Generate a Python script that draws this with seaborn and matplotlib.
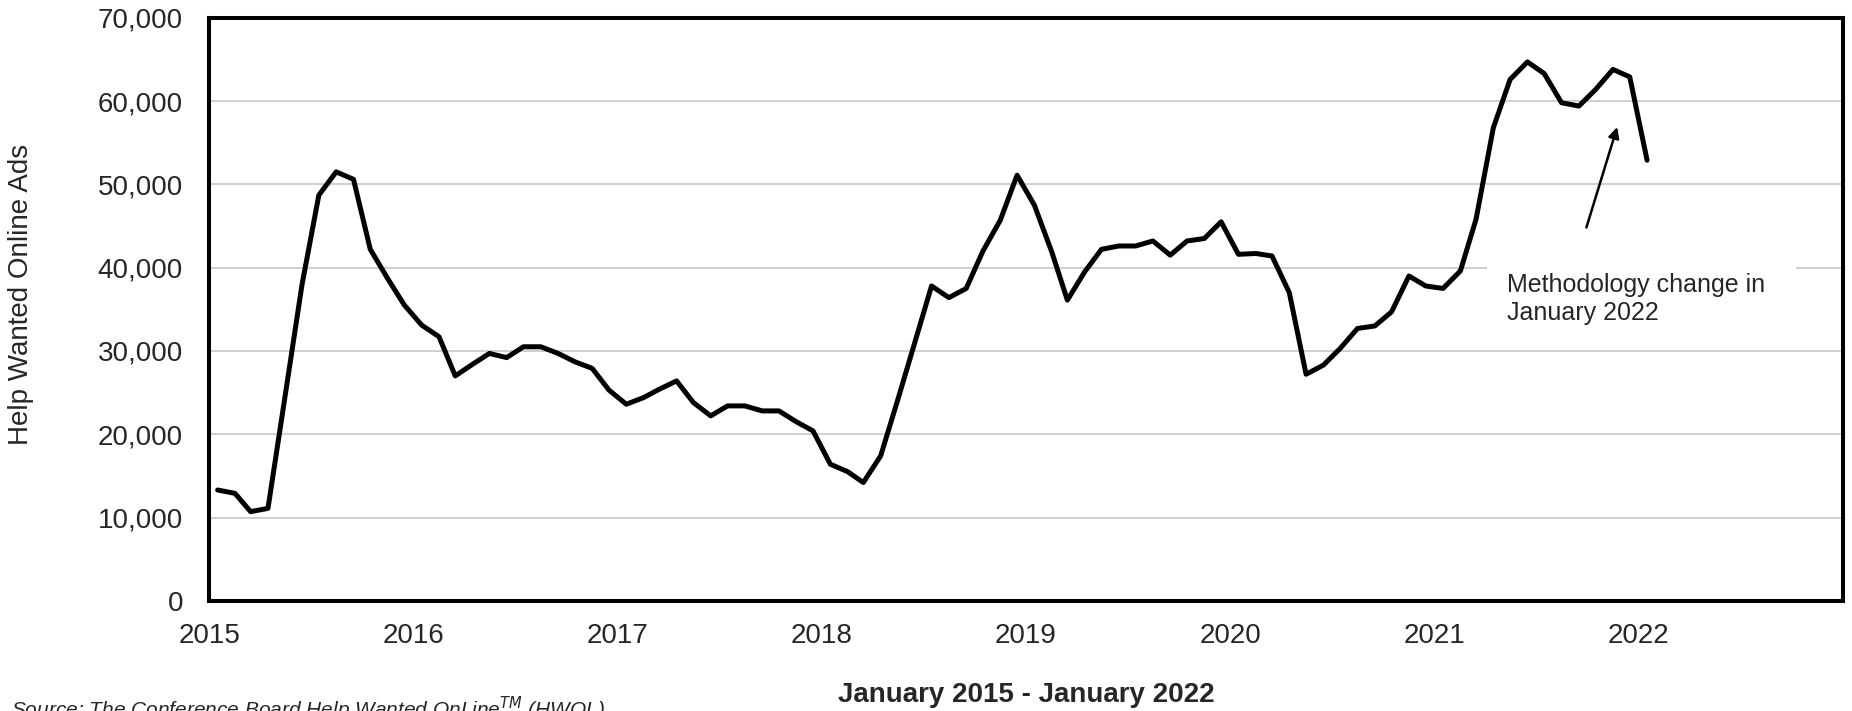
import matplotlib
matplotlib.use("Agg")
import matplotlib.pyplot as plt
import matplotlib.dates as mdates
import matplotlib.ticker as mticker
from matplotlib.patches import Rectangle
import seaborn as sns
import pandas as pd

# Monthly Help Wanted Online ads, Jan 2015 - Jan 2022
months = pd.date_range("2015-01-01", "2022-01-01", freq="MS") + pd.Timedelta(days=15)
ads = [
    13300, 12900, 10700, 11100, 24300, 38000, 48700, 51500, 50600, 42200, 38700, 35500,
    33100, 31700, 27000, 28400, 29700, 29200, 30500, 30500, 29700, 28700, 27900, 25300,
    23600, 24400, 25400, 26400, 23800, 22200, 23400, 23400, 22800, 22800, 21500, 20400,
    16400, 15500, 14200, 17400, 24000, 31000, 37800, 36400, 37500, 42000, 45700, 51100,
    47500, 41900, 36100, 39500, 42200, 42600, 42600, 43200, 41500, 43200, 43500, 45500,
    41600, 41700, 41400, 37000, 27200, 28300, 30300, 32700, 33000, 34700, 39000, 37800,
    37500, 39600, 45800, 56800, 62600, 64700, 63300, 59800, 59400, 61400, 63800, 62900,
    52900,
]
df = pd.DataFrame({"month": months, "ads": ads})

y_ticks = list(range(0, 70001, 10000))
note = "Methodology change in\nJanuary 2022"

sns.set_style("white")
plt.rcParams["font.family"] = ["Liberation Sans", "DejaVu Sans"]

fig = plt.figure(figsize=(18.52, 7.11), dpi=100)
ax = fig.add_axes([0.113, 0.155, 0.882, 0.82])

ax.yaxis.grid(True, color="#cccccc", linewidth=1.3)
ax.set_axisbelow(True)
sns.lineplot(data=df, x="month", y="ads", color="black", linewidth=3.6, ax=ax, zorder=3)

ax.set_xlim(pd.Timestamp("2015-01-01"), pd.Timestamp("2023-01-01"))
ax.set_ylim(0, 70000)
ax.set_yticks(y_ticks)
ax.yaxis.set_major_formatter(mticker.FuncFormatter(lambda v, p: f"{int(v):,}"))
ax.xaxis.set_major_locator(mdates.YearLocator())
# last year tick (2023) has no label in the original
ax.xaxis.set_major_formatter(mticker.FuncFormatter(
    lambda v, p: "" if mdates.num2date(v).year > 2022 else str(mdates.num2date(v).year)))

for s in ax.spines.values():
    s.set_color("black")
    s.set_linewidth(2.9)
ax.tick_params(axis="both", direction="out", length=6, width=2.4, labelsize=20, color="black")
ax.tick_params(axis="x", pad=10)
ax.tick_params(axis="y", pad=13)

ax.set_ylabel("Help Wanted Online Ads", fontsize=20)
ax.yaxis.set_label_coords(-0.107, 0.525)
ax.set_xlabel("January 2015 - January 2022", fontsize=20, fontweight="bold", labelpad=24)

# white box behind the note hides the gridline
x0 = mdates.date2num(pd.Timestamp("2021-04-05"))
x1 = mdates.date2num(pd.Timestamp("2022-10-10"))
ax.add_patch(Rectangle((x0, 31500), x1 - x0, 9800, facecolor="white", edgecolor="none", zorder=1))
ax.text(pd.Timestamp("2021-05-10"), 39300, note, fontsize=18, va="top", ha="left",
        linespacing=1.2, zorder=2)
ax.annotate("", xy=(pd.Timestamp("2021-11-25"), 57200), xytext=(pd.Timestamp("2021-09-28"), 44500),
            arrowprops=dict(arrowstyle="-|>", color="black", lw=1.8, mutation_scale=16))

fig.text(0.006, -0.0085, "Source: The Conference Board Help Wanted OnLine$^{TM}$ (HWOL)",
         fontsize=15, style="italic", ha="left", va="baseline")

fig.savefig("out.png", dpi=100)
